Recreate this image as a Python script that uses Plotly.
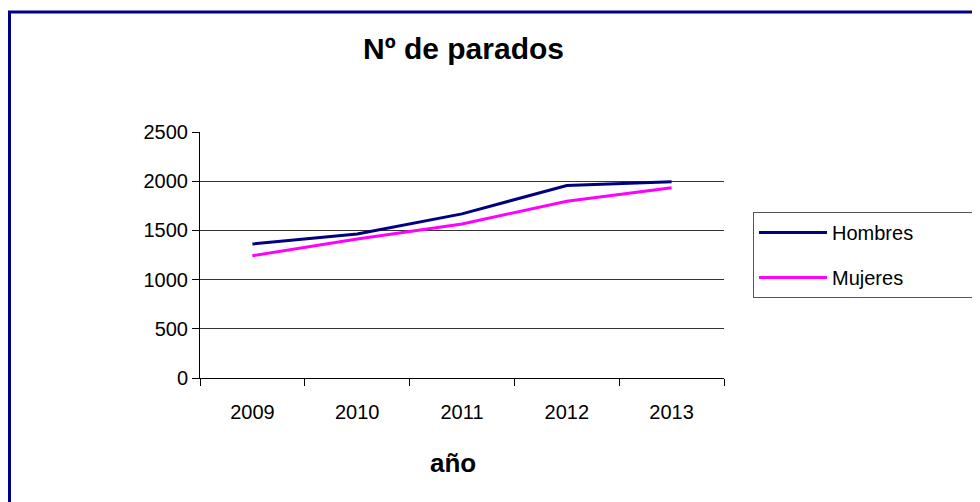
import plotly.graph_objects as go

years = ["2009", "2010", "2011", "2012", "2013"]
hombres = [1362, 1464, 1668, 1957, 1994]
mujeres = [1243, 1413, 1566, 1797, 1933]
y_ticks = [0, 500, 1000, 1500, 2000, 2500]

W, H = 980, 502
OFF = 8  # page body margin
L, R, T, B = 200 - OFF, 980 - (724 - OFF), 132 - OFF, 502 - (378 - OFF)
pw, ph = W - L - R, H - T - B

def px_x(px):
    return (px - OFF - L) / pw

def px_y(py):
    return (H - B - (py - OFF)) / ph

FONT = "Liberation Sans, Arial, sans-serif"
PAD = "\u00a0" * 10

fig = go.Figure()
fig.add_trace(go.Scatter(x=years, y=hombres, mode="lines", name="Hombres" + PAD,
                         line=dict(color="#000080", width=3), legendgroup="h"))
fig.add_trace(go.Scatter(x=years, y=mujeres, mode="lines", name="Mujeres" + PAD,
                         line=dict(color="#FF00FF", width=3), legendgroup="m"))

fig.update_layout(
    width=W, height=H,
    margin=dict(l=L, r=R, t=T, b=B, autoexpand=False),
    paper_bgcolor="white", plot_bgcolor="white",
    font=dict(family=FONT, size=20, color="black"),
    title=dict(text="<b>Nº de parados</b>", x=px_x(463.5), xref="paper", xanchor="center",
               y=1 - (48 - OFF) / H, yref="container", yanchor="middle",
               font=dict(family=FONT, size=30, color="black")),
    showlegend=True,
    legend=dict(x=px_x(753), y=px_y(212), xanchor="left", yanchor="top",
                bordercolor="#555", borderwidth=1, bgcolor="white",
                font=dict(family=FONT, size=20, color="black"),
                tracegroupgap=16, itemwidth=68),
    shapes=[dict(type="rect", xref="paper", yref="paper",
                 x0=px_x(9.5), x1=px_x(1000), y0=px_y(520), y1=px_y(12),
                 line=dict(color="#000080", width=3), fillcolor="rgba(0,0,0,0)",
                 layer="above")],
    annotations=[dict(text="<b>año</b>", xref="paper", yref="paper",
                      x=px_x(453), y=px_y(463), xanchor="center", yanchor="middle",
                      showarrow=False, font=dict(family=FONT, size=26, color="black"))],
)

fig.update_xaxes(
    type="category", range=[-0.5, 4.5],
    showline=True, linecolor="black", linewidth=1,
    ticks="outside", tickson="boundaries", ticklen=7, tickcolor="black",
    showgrid=False, zeroline=False, ticklabelstandoff=16,
    tickfont=dict(family=FONT, size=20, color="black"),
)
fig.update_yaxes(
    range=[0, 2500], tickvals=y_ticks,
    showline=True, linecolor="black", linewidth=1,
    ticks="outside", ticklen=7, tickcolor="black",
    showgrid=True, gridcolor="#333", gridwidth=1, zeroline=False,
    tickfont=dict(family=FONT, size=20, color="black"),
)

fig.write_html("out.html")
